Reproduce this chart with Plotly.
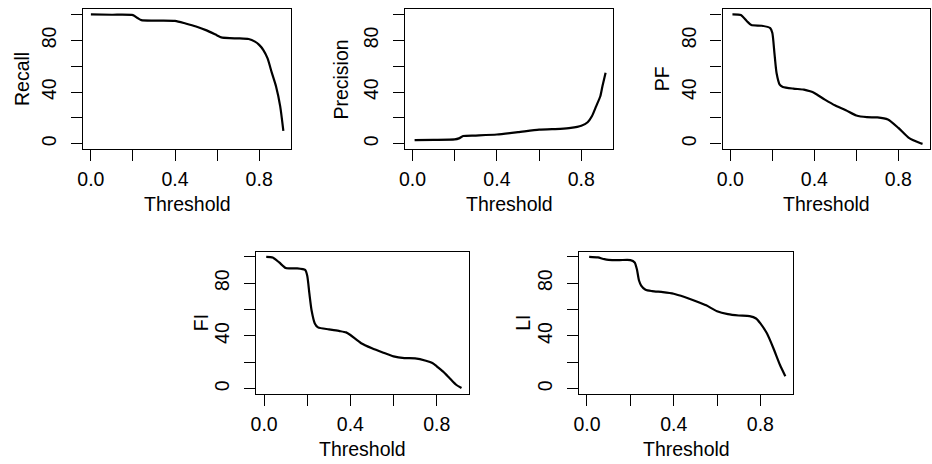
import plotly.graph_objects as go

W, H = 932, 464

# ---- data ----
recall_x = [0.0, 0.1, 0.2, 0.22, 0.24, 0.3, 0.4, 0.45, 0.5, 0.55, 0.6, 0.62, 0.66, 0.7, 0.75, 0.78, 0.8, 0.82, 0.84, 0.86, 0.88, 0.9, 0.915]
recall_y = [100, 99.8, 99.5, 97.5, 95.6, 95.2, 95.0, 93.0, 90.7, 87.7, 83.8, 82.3, 81.7, 81.5, 81.0, 79.0, 76.5, 72.5, 66.0, 55.0, 44.5, 29.0, 10.0]

precision_x = [0.01, 0.1, 0.2, 0.22, 0.24, 0.3, 0.4, 0.5, 0.6, 0.7, 0.75, 0.8, 0.83, 0.85, 0.87, 0.89, 0.9, 0.915]
precision_y = [2.8, 3.0, 3.4, 4.2, 6.0, 6.4, 7.2, 9.0, 11.0, 11.6, 12.3, 14.0, 16.7, 21.3, 29.0, 36.8, 44.5, 55.0]

pf_x = [0.01, 0.05, 0.08, 0.1, 0.15, 0.19, 0.2, 0.21, 0.22, 0.235, 0.25, 0.3, 0.35, 0.38, 0.4, 0.45, 0.5, 0.55, 0.6, 0.65, 0.7, 0.75, 0.8, 0.85, 0.9, 0.915]
pf_y = [100, 99.5, 94.6, 91.8, 91.3, 89.5, 85.6, 70.0, 54.8, 45.8, 44.0, 42.7, 41.9, 40.6, 39.3, 34.2, 29.6, 26.0, 21.9, 20.6, 20.4, 18.8, 12.3, 4.6, 0.8, 0.0]

fi_x = [0.01, 0.04, 0.07, 0.1, 0.15, 0.19, 0.2, 0.21, 0.22, 0.235, 0.25, 0.3, 0.35, 0.38, 0.4, 0.45, 0.5, 0.55, 0.6, 0.65, 0.7, 0.75, 0.78, 0.8, 0.83, 0.86, 0.89, 0.915]
fi_y = [100, 99.5, 95.7, 91.5, 91.2, 90.0, 85.7, 72.0, 59.5, 49.5, 46.5, 45.0, 43.7, 42.7, 40.7, 34.5, 30.7, 27.5, 24.5, 23.2, 23.0, 21.2, 19.5, 17.0, 13.0, 8.0, 3.0, 0.5]

li_x = [0.01, 0.05, 0.08, 0.1, 0.15, 0.2, 0.22, 0.23, 0.24, 0.25, 0.27, 0.3, 0.35, 0.4, 0.45, 0.5, 0.55, 0.6, 0.65, 0.7, 0.75, 0.78, 0.8, 0.83, 0.86, 0.89, 0.915]
li_y = [100, 99.5, 98.2, 97.7, 97.5, 97.5, 95.7, 90.7, 82.0, 78.2, 75.0, 74.0, 73.2, 72.0, 69.5, 66.5, 63.2, 58.7, 56.5, 55.5, 55.0, 53.2, 49.5, 42.0, 30.7, 18.2, 9.5]

x_tick_vals = [0.0, 0.2, 0.4, 0.6, 0.8]
x_tick_text = ["0.0", "", "0.4", "", "0.8"]
y_tick_vals = [0, 20, 40, 60, 80, 100]
y_tick_text = ["0", "", "40", "", "80", ""]

x_title = "Threshold"
panels = [
    ("Recall", recall_x, recall_y),
    ("Precision", precision_x, precision_y),
    ("PF", pf_x, pf_y),
    ("FI", fi_x, fi_y),
    ("LI", li_x, li_y),
]

# ---- layout geometry (pixels) ----
boxes = [
    (77.7, 287.3, 9.3, 149.0),
    (401.7, 612.0, 9.3, 149.0),
    (722.0, 931.3, 9.3, 149.0),
    (252.0, 467.0, 251.5, 394.0),
    (577.3, 793.3, 251.5, 394.0),
]
ytitle_x = [16, 338, 661, 196, 521]

FONT = "Liberation Sans, Arial, sans-serif"
FS = 19.5

fig = go.Figure()
layout = dict(
    width=W, height=H, margin=dict(l=0, r=0, t=0, b=0),
    paper_bgcolor="white", plot_bgcolor="white",
    showlegend=False, font=dict(family=FONT, size=FS, color="black"),
)
annotations = []
for i, ((name, xs, ys), (l, r, t, b)) in enumerate(zip(panels, boxes)):
    k = "" if i == 0 else str(i + 1)
    fig.add_trace(go.Scatter(
        x=xs, y=ys, mode="lines", xaxis="x" + k, yaxis="y" + k,
        line=dict(color="black", width=2.2, shape="spline", smoothing=0.6),
        hoverinfo="skip",
    ))
    common = dict(showgrid=False, zeroline=False, showline=True, mirror=True,
                  linecolor="black", linewidth=1.2, ticks="outside", ticklen=11,
                  tickwidth=1.2, tickcolor="black",
                  tickfont=dict(family=FONT, size=FS, color="black"),
                  fixedrange=True)
    layout["xaxis" + k] = dict(
        domain=[l / W, r / W], anchor="y" + k, range=[-0.037, 0.952],
        tickmode="array", tickvals=x_tick_vals, ticktext=x_tick_text,
        ticklabelstandoff=1, **common)
    layout["yaxis" + k] = dict(
        domain=[1 - b / H, 1 - t / H], anchor="x" + k, range=[-4, 104],
        tickmode="array", tickvals=y_tick_vals, ticktext=y_tick_text,
        tickangle=-90, ticklabelstandoff=7, **common)
    annotations.append(dict(
        text=x_title, xref="paper", yref="paper", x=(l + r) / 2 / W,
        y=1 - (b + 55) / H, xanchor="center", yanchor="middle",
        showarrow=False, font=dict(family=FONT, size=FS, color="black")))
    annotations.append(dict(
        text=name, xref="paper", yref="paper", x=ytitle_x[i] / W,
        y=1 - (t + b) / 2 / H, xanchor="center", yanchor="middle",
        textangle=-90, showarrow=False,
        font=dict(family=FONT, size=FS, color="black")))
layout["annotations"] = annotations
fig.update_layout(**layout)
fig.write_html("out.html")
